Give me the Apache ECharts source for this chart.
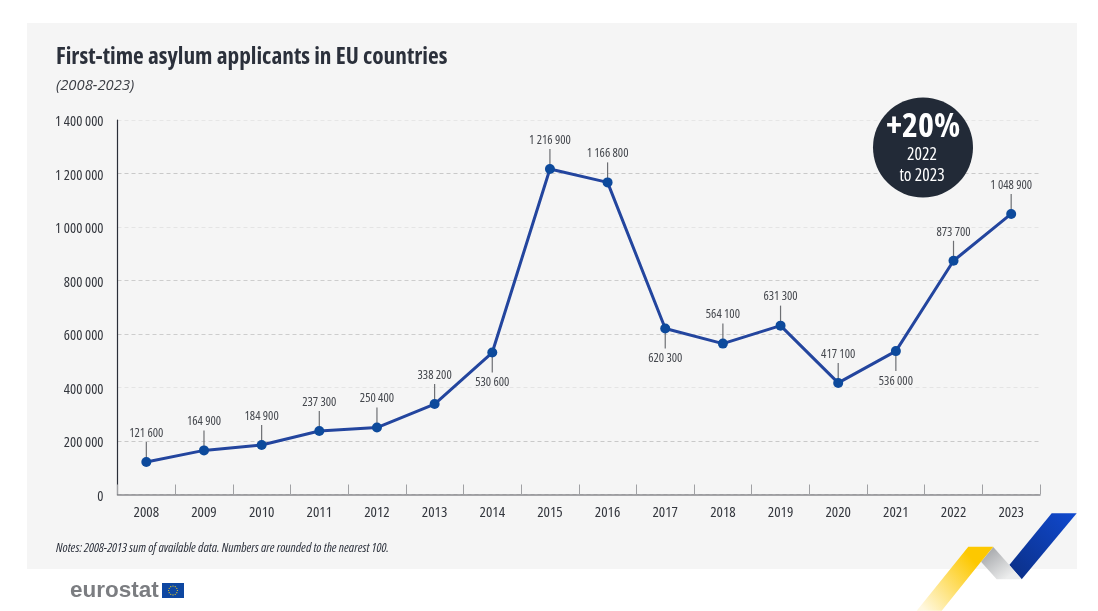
<!DOCTYPE html>
<html><head><meta charset="utf-8">
<style>html,body{margin:0;padding:0;background:#fff}#c{width:1098px;height:611px}</style>
<script src="https://cdn.jsdelivr.net/npm/echarts@6/dist/echarts.min.js"></script>
</head><body><div id="c"></div>
<script>
const years=['2008','2009','2010','2011','2012','2013','2014','2015','2016','2017','2018','2019','2020','2021','2022','2023'];
const applicants=[121600,164900,184900,237300,250400,338200,530600,1216900,1166800,620300,564100,631300,417100,536000,873700,1048900];
const labelsBelow=['2014','2017','2021'];
const titleText='First-time asylum applicants in EU countries';
const subtitleText='(2008-2023)';
const notesText='Notes: 2008-2013 sum of available data. Numbers are rounded to the nearest 100.';
const FF='"Open Sans",sans-serif';
const fmt=v=>String(v).replace(/\B(?=(\d{3})+(?!\d))/g,' ');
const chart=echarts.init(document.getElementById('c'),null,{renderer:'canvas'});
const stars=[];
for(let i=0;i<12;i++){const a=i*Math.PI/6;stars.push({type:'circle',z:5,shape:{cx:173+4.4*Math.cos(a),cy:590.5+4.4*Math.sin(a),r:0.6},style:{fill:'#f6d21a'}});}
const grad=(x,y,x2,y2,c0,c1)=>({type:'linear',x,y,x2,y2,colorStops:[{offset:0,color:c0},{offset:1,color:c1}]});
chart.setOption({
  animation:false,
  backgroundColor:'#fff',
  grid:{left:117.5,right:58,top:120,bottom:116.5},
  xAxis:{type:'category',data:years,boundaryGap:true,
    axisLine:{onZero:false,lineStyle:{color:'#8a8b8e',width:1.5}},
    axisTick:{show:true,inside:true,length:10,alignWithLabel:false,lineStyle:{color:'#a0a1a4',width:1}},
    axisLabel:{margin:11,fontStyle:'condensed',fontFamily:FF,fontSize:15,color:'#33363d'},
    splitLine:{show:false}},
  yAxis:{type:'value',min:0,max:1400000,interval:200000,
    axisLine:{show:true,lineStyle:{color:'#2a2e38',width:1.2}},
    axisTick:{show:false},
    axisLabel:{margin:14,fontStyle:'condensed',fontFamily:FF,fontSize:14.5,color:'#33363d',formatter:fmt,verticalAlign:'top',lineHeight:4},
    splitLine:{show:true,lineStyle:{type:[4,3],width:1,
      color:['#cfcfcf','#c9c9c9','#e4e4e4','#cdcdcd','#cdcdcd','#e4e4e4','#c9c9c9','#e6e6e6']}}},
  series:[
    {type:'custom',coordinateSystem:'cartesian2d',z:3,silent:true,
     data:years.map((y,i)=>[y,applicants[i]]),encode:{x:0,y:1},
     renderItem(params,api){
       const p=api.coord([api.value(0),api.value(1)]);
       const below=labelsBelow.includes(years[params.dataIndex]);
       const s=below?1:-1;
       return {type:'group',children:[
         {type:'line',shape:{x1:p[0],y1:p[1],x2:p[0],y2:p[1]+s*20},style:{stroke:'#6d6f73',lineWidth:1.2}},
         {type:'text',style:{x:p[0],y:p[1]+s*29.5+0.7,text:fmt(applicants[params.dataIndex]),textAlign:'center',textVerticalAlign:'middle',font:'condensed 12.5px '+FF,fill:'#44474d'}}
       ]};
     }},
    {type:'line',data:applicants,z:4,symbol:'circle',symbolSize:10,showSymbol:true,
     lineStyle:{color:'#23459e',width:3},itemStyle:{color:'#0d4a9c'},silent:true}
  ],
  graphic:[
    {type:'rect',z:-10,shape:{x:27,y:23,width:1050,height:546},style:{fill:'#f5f5f5'}},
    {type:'text',z:5,style:{x:56,y:57,text:titleText,font:'condensed bold 23.3px '+FF,fill:'#2b303b',textVerticalAlign:'middle'}},
    {type:'text',z:5,style:{x:56,y:86,text:subtitleText,font:'italic 14.8px '+FF,fill:'#3b3e45',textVerticalAlign:'middle'}},
    {type:'text',z:5,style:{x:56,y:548,text:notesText,font:'italic condensed 12.8px '+FF,fill:'#2b303b',textVerticalAlign:'middle'}},
    {type:'circle',z:6,shape:{cx:923,cy:147.5,r:50},style:{fill:'#222a37'}},
    {type:'text',z:7,style:{x:923,y:127,text:'+20%',font:'condensed bold 34px '+FF,fill:'#fff',textAlign:'center',textVerticalAlign:'middle'}},
    {type:'text',z:7,style:{x:922,y:155,text:'2022',font:'condensed 17.5px '+FF,fill:'#fff',textAlign:'center',textVerticalAlign:'middle'}},
    {type:'text',z:7,style:{x:922,y:176,text:'to 2023',font:'condensed 17.5px '+FF,fill:'#fff',textAlign:'center',textVerticalAlign:'middle'}},
    {type:'text',z:5,style:{x:70,y:590.5,text:'eurostat',font:'bold 22.5px "Liberation Sans",sans-serif',fill:'#7b7d81',textVerticalAlign:'middle'}},
    {type:'rect',z:5,shape:{x:162,y:583,width:22,height:15},style:{fill:'#0e47a1'}},
    ...stars,
    {type:'polygon',z:5,shape:{points:[[1051.7,513.3],[1076.7,513.3],[1021.7,579.3],[1009.3,565]]},
      style:{fill:grad(1,0,0,1,'#1049cf','#0b2f85')}},
    {type:'polygon',z:5,shape:{points:[[993.3,547],[1009.3,565],[1021.7,579.3],[996.7,579.3],[981,561.7]]},
      style:{fill:grad(0,0,0.6,1,'#9a9ca0','#eceded')}},
    {type:'polygon',z:5,shape:{points:[[968.3,546.7],[993.3,546.7],[981,561.7],[941.7,610.7],[916.7,610.7]]},
      style:{fill:grad(0.8,0.3,0.1,1,'#fdc800','#fff8e0')}}
  ]
});
</script></body></html>
